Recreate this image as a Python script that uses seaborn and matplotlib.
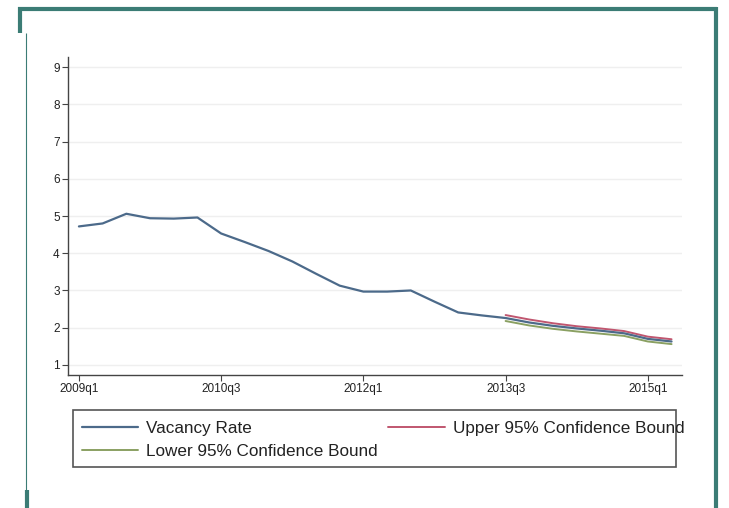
import numpy as np
import pandas as pd
import matplotlib
matplotlib.use("Agg")
import matplotlib.pyplot as plt
from matplotlib.lines import Line2D
from matplotlib.patches import Rectangle
import seaborn as sns

# quarters 2009q1 .. 2015q2
quarters = [f"{y}q{q}" for y in range(2009, 2016) for q in range(1, 5)][:26]
tick_labels = ["2009q1", "2010q3", "2012q1", "2013q3", "2015q1"]

# observed vacancy rate 2009q1 .. 2013q3, then projected path to 2015q2
vacancy = [4.72, 4.80, 5.06, 4.94, 4.93, 4.96, 4.53, 4.30, 4.06, 3.78, 3.45, 3.13,
           2.97, 2.97, 3.00, 2.70, 2.41, 2.33, 2.26,
           2.14, 2.05, 1.98, 1.92, 1.85, 1.70, 1.63]
upper = [2.34, 2.22, 2.12, 2.04, 1.98, 1.91, 1.76, 1.69]
lower = [2.18, 2.06, 1.97, 1.90, 1.84, 1.78, 1.63, 1.56]
fc_start = 18

df = pd.DataFrame({"t": np.arange(len(quarters)), "quarter": quarters, "vacancy": vacancy})
df["upper"] = np.nan
df["lower"] = np.nan
df.loc[fc_start:, "upper"] = upper
df.loc[fc_start:, "lower"] = lower

sns.set_style("white")
plt.rcParams["font.family"] = ["Liberation Sans", "DejaVu Sans"]

blue = "#4c6a8a"
red = "#c0566f"
green = "#8aa062"

fig = plt.figure(figsize=(7.29, 5.08), dpi=100)
ax = fig.add_axes([0.0933, 0.2618, 0.8422, 0.626])

sns.lineplot(data=df, x="t", y="upper", color=red, lw=1.4, ax=ax, label="Upper 95% Confidence Bound")
sns.lineplot(data=df, x="t", y="lower", color=green, lw=1.4, ax=ax, label="Lower 95% Confidence Bound")
sns.lineplot(data=df, x="t", y="vacancy", color=blue, lw=1.6, ax=ax, label="Vacancy Rate")

ax.set_xlim(-0.46, 25.44)
ax.set_ylim(0.73, 9.27)
ax.set_yticks(range(1, 10))
ax.set_xticks([quarters.index(q) for q in tick_labels])
ax.set_xticklabels(tick_labels)
ax.set_xlabel("")
ax.set_ylabel("")
ax.yaxis.grid(True, color="#efefef", lw=1.0)
ax.xaxis.grid(False)
for s in ["top", "right"]:
    ax.spines[s].set_visible(False)
for s in ["left", "bottom"]:
    ax.spines[s].set_color("#444444")
    ax.spines[s].set_linewidth(1.0)
ax.tick_params(axis="both", which="both", length=4, width=0.8, color="#444444",
               labelsize=8.5, labelcolor="#222222", left=True, bottom=True, pad=2)

# two-column legend: Vacancy | Upper, then Lower
ax.get_legend().remove()
h, l = ax.get_legend_handles_labels()
leg = fig.legend([h[2], h[1], h[0]], [l[2], l[1], l[0]],
                 ncol=2, loc="upper left", bbox_to_anchor=(73 / 729, 1 - 412 / 508),
                 fontsize=12.3, frameon=False,
                 handlelength=3.3, handletextpad=0.5, borderaxespad=0, borderpad=0.5,
                 labelspacing=0.52, columnspacing=0.6)
for t in leg.get_texts():
    t.set_color("#222222")
# legend box is narrower than its text, as in the original
fig.add_artist(Rectangle((73 / 729, 1 - 467 / 508), 603 / 729, 57 / 508,
                         transform=fig.transFigure, fill=False, ec="#555555", lw=1.2))

# teal page frame
teal = "#3b7c75"
kw = dict(color=teal, solid_capstyle="butt")
fig.add_artist(Line2D([18 / 729, 717 / 729], [1 - 8.5 / 508, 1 - 8.5 / 508], lw=3, **kw))
fig.add_artist(Line2D([715.5 / 729, 715.5 / 729], [1 - 7 / 508, 0], lw=3, **kw))
fig.add_artist(Line2D([19.5 / 729, 19.5 / 729], [1 - 7 / 508, 1 - 33 / 508], lw=3, **kw))
fig.add_artist(Line2D([25.5 / 729, 25.5 / 729], [1 - 33 / 508, 1 - 490 / 508], lw=0.8, **kw))
fig.add_artist(Line2D([27 / 729, 27 / 729], [1 - 490 / 508, 0], lw=3, **kw))

fig.savefig("out.png", dpi=100)
